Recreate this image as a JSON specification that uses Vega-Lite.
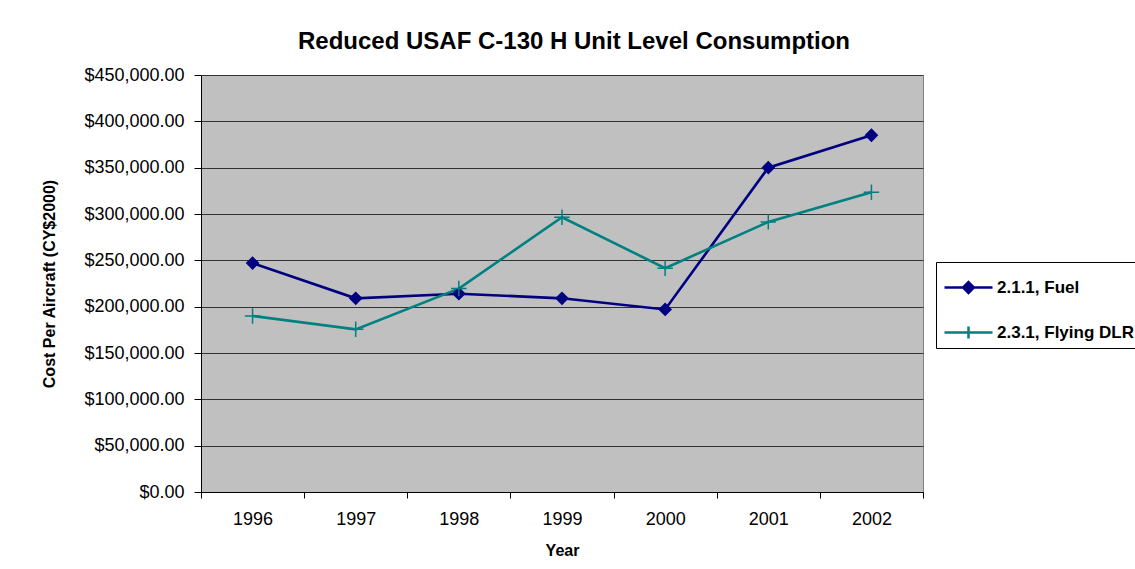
{
  "$schema": "https://vega.github.io/schema/vega-lite/v6.json",
  "width": 722,
  "height": 417,
  "autosize": {"type": "none"},
  "padding": {"left": 201, "top": 75, "right": 212, "bottom": 77},
  "background": "white",
  "title": {
    "text": "Reduced USAF C-130 H Unit Level Consumption",
    "font": "Liberation Sans",
    "fontSize": 24,
    "fontWeight": "bold",
    "color": "black",
    "anchor": "middle",
    "frame": "group",
    "dx": 12,
    "offset": 12
  },
  "config": {
    "view": {"fill": "#C0C0C0", "stroke": "#808080", "strokeWidth": 1},
    "font": "Liberation Sans"
  },
  "data": {
    "values": [
      {"year": "1996", "series": "2.1.1, Fuel", "cost": 247000},
      {"year": "1997", "series": "2.1.1, Fuel", "cost": 209000},
      {"year": "1998", "series": "2.1.1, Fuel", "cost": 214000},
      {"year": "1999", "series": "2.1.1, Fuel", "cost": 209000},
      {"year": "2000", "series": "2.1.1, Fuel", "cost": 197000},
      {"year": "2001", "series": "2.1.1, Fuel", "cost": 350000},
      {"year": "2002", "series": "2.1.1, Fuel", "cost": 385000},
      {"year": "1996", "series": "2.3.1, Flying DLR", "cost": 190000},
      {"year": "1997", "series": "2.3.1, Flying DLR", "cost": 175500},
      {"year": "1998", "series": "2.3.1, Flying DLR", "cost": 219500},
      {"year": "1999", "series": "2.3.1, Flying DLR", "cost": 296500},
      {"year": "2000", "series": "2.3.1, Flying DLR", "cost": 241500},
      {"year": "2001", "series": "2.3.1, Flying DLR", "cost": 291500},
      {"year": "2002", "series": "2.3.1, Flying DLR", "cost": 323500}
    ]
  },
  "encoding": {
    "x": {
      "field": "year",
      "type": "ordinal",
      "scale": {"type": "band", "paddingInner": 0, "paddingOuter": 0},
      "axis": {
        "title": "Year",
        "titleFont": "Liberation Sans",
        "titleFontSize": 16,
        "titleFontWeight": "bold",
        "titleColor": "black",
        "titlePadding": 14,
        "labelAngle": 0,
        "labelFont": "Liberation Sans",
        "labelFontSize": 18,
        "labelColor": "black",
        "labelPadding": 12,
        "tickBand": "extent",
        "tickSize": 6,
        "tickColor": "black",
        "domainColor": "black",
        "grid": false
      }
    },
    "y": {
      "field": "cost",
      "type": "quantitative",
      "scale": {"domain": [0, 450000], "nice": false},
      "axis": {
        "title": "Cost Per Aircraft (CY$2000)",
        "titleFont": "Liberation Sans",
        "titleFontSize": 16,
        "titleFontWeight": "bold",
        "titleColor": "black",
        "titlePadding": 26,
        "values": [0, 50000, 100000, 150000, 200000, 250000, 300000, 350000, 400000, 450000],
        "format": "$,.2f",
        "labelFont": "Liberation Sans",
        "labelFontSize": 18,
        "labelColor": "black",
        "labelPadding": 10,
        "tickSize": 7,
        "tickColor": "black",
        "domainColor": "black",
        "grid": true,
        "gridColor": "#333333",
        "gridWidth": 1
      }
    }
  },
  "layer": [
    {
      "mark": {"type": "line", "strokeWidth": 2.6},
      "encoding": {
        "stroke": {
          "field": "series",
          "type": "nominal",
          "scale": {"domain": ["2.1.1, Fuel", "2.3.1, Flying DLR"], "range": ["#000080", "#008080"]},
          "legend": {
            "title": null,
            "orient": "none",
            "legendX": 735,
            "legendY": 187,
            "padding": 4,
            "fillColor": "white",
            "strokeColor": "black",
            "symbolSize": 1600,
            "symbolOffset": 7,
            "symbolStrokeWidth": 2.5,
            "labelOffset": 7,
            "rowPadding": 13,
            "labelFont": "Liberation Sans",
            "labelFontSize": 17,
            "labelFontWeight": "bold",
            "labelColor": "black",
            "labelLimit": 400,
            "encode": {
              "symbols": {
                "update": {
                  "shape": {"signal": "datum.value === '2.1.1, Fuel' ? 'M-1.2,0L1.2,0M0,-0.27L0.27,0L0,0.27L-0.27,0Z' : 'M-1.2,0L1.2,0M0,-0.3L0,0.3'"},
                  "fill": {"signal": "datum.value === '2.1.1, Fuel' ? '#000080' : 'transparent'"},
                  "strokeWidth": {"value": 2.5}
                }
              }
            }
          }
        }
      }
    },
    {
      "transform": [{"filter": "datum.series === '2.1.1, Fuel'"}],
      "mark": {"type": "point", "shape": "diamond", "filled": true, "color": "#000080", "opacity": 1, "size": 190}
    },
    {
      "transform": [{"filter": "datum.series === '2.3.1, Flying DLR'"}],
      "mark": {"type": "point", "shape": "M-1,0L1,0M0,-1L0,1", "filled": false, "color": "#008080", "strokeWidth": 1.5, "opacity": 1, "size": 240}
    }
  ]
}
